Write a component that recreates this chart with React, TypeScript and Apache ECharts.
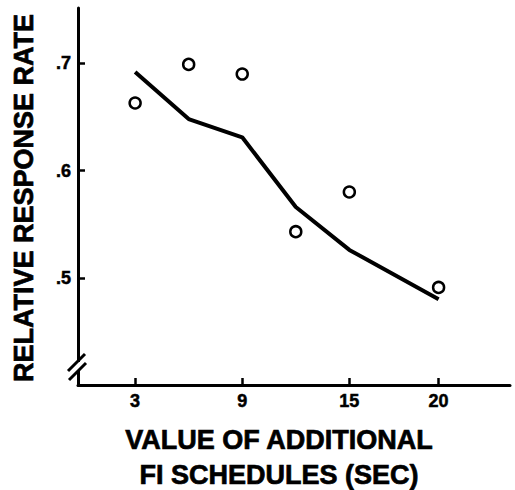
import React, { useEffect, useRef } from "react";
import * as echarts from "echarts";

// x: value of additional FI schedules (sec)
const xValues = [3, 6, 9, 12, 15, 20];
// observed relative response rate (open circles)
const observedRates = [0.663, 0.699, 0.69, 0.543, 0.58, 0.491];
// predicted relative response rate (solid line)
const predictedRates = [0.692, 0.648, 0.631, 0.566, 0.526, 0.48];

const xTickValues = [3, 9, 15, 20];
const yTickValues = [0.5, 0.6, 0.7];
const yTickLabels = [".5", ".6", ".7"];

const yTitle = "RELATIVE RESPONSE RATE";
const xTitleLines = ["VALUE OF ADDITIONAL", "FI SCHEDULES (SEC)"];

const FONT = "'Liberation Sans', Arial, Helvetica, sans-serif";

export default function App() {
  const ref = useRef<HTMLDivElement>(null);

  useEffect(() => {
    if (!ref.current) return;
    const chart = echarts.init(ref.current, null, { renderer: "svg" });

    const linePts = xValues.map((x, i) => [x, predictedRates[i]]);
    const dotPts = xValues.map((x, i) => [x, observedRates[i]]);

    const labelStyle = {
      color: "#000",
      fontFamily: FONT,
      fontWeight: "bold",
      fontSize: 18,
      textBorderColor: "#000",
      textBorderWidth: 0.5,
    };

    const titleStyle = (text: string) => ({
      text,
      fill: "#000",
      stroke: "#000",
      lineWidth: 0.7,
      font: `bold 27px ${FONT}`,
      textAlign: "center",
      textVerticalAlign: "middle",
    });

    chart.setOption({
      animation: false,
      backgroundColor: "#ffffff",
      grid: { left: 78, right: 5, top: 8, bottom: 105, containLabel: false },
      xAxis: {
        type: "value",
        min: -0.2,
        max: 24,
        splitLine: { show: false },
        axisLine: { show: true, onZero: false, lineStyle: { color: "#000", width: 3 } },
        axisTick: {
          show: true,
          inside: true,
          length: 7,
          customValues: xTickValues,
          lineStyle: { color: "#000", width: 2.5 },
        },
        axisLabel: {
          show: true,
          customValues: xTickValues,
          margin: 7,
          ...labelStyle,
        },
      },
      yAxis: {
        type: "value",
        min: 0.4,
        max: 0.7516,
        splitLine: { show: false },
        axisLine: { show: true, onZero: false, lineStyle: { color: "#000", width: 3 } },
        axisTick: {
          show: true,
          inside: true,
          length: 7,
          customValues: yTickValues,
          lineStyle: { color: "#000", width: 2.5 },
        },
        axisLabel: {
          show: true,
          customValues: yTickValues,
          margin: 7,
          ...labelStyle,
          formatter: (v: number) => {
            const idx = yTickValues.findIndex((t) => Math.abs(t - v) < 1e-6);
            return idx >= 0 ? yTickLabels[idx] : "";
          },
        },
      },
      series: [
        {
          type: "line",
          data: linePts,
          symbol: "none",
          lineStyle: { color: "#000", width: 4 },
          z: 2,
        },
        {
          type: "scatter",
          data: dotPts,
          symbol: "circle",
          symbolSize: 11,
          itemStyle: { color: "#fff", borderColor: "#000", borderWidth: 2.5, opacity: 1 },
          z: 3,
        },
      ],
      graphic: [
        // axis break gap
        {
          type: "rect",
          shape: { x: 74, y: 362, width: 9, height: 8 },
          style: { fill: "#fff" },
          z: 100,
        },
        {
          type: "line",
          shape: { x1: 68, y1: 371, x2: 85, y2: 354 },
          style: { stroke: "#000", lineWidth: 3 },
          z: 101,
        },
        {
          type: "line",
          shape: { x1: 69, y1: 380, x2: 86, y2: 363 },
          style: { stroke: "#000", lineWidth: 3 },
          z: 101,
        },
        {
          type: "text",
          x: 24,
          y: 198,
          rotation: Math.PI / 2,
          style: titleStyle(yTitle),
        },
        {
          type: "text",
          x: 279,
          y: 440,
          style: titleStyle(xTitleLines[0]),
        },
        {
          type: "text",
          x: 279,
          y: 475,
          style: titleStyle(xTitleLines[1]),
        },
      ],
    });

    return () => chart.dispose();
  }, []);

  return (
    <div
      ref={ref}
      style={{ position: "fixed", left: 0, top: 0, width: 515, height: 490 }}
    />
  );
}
